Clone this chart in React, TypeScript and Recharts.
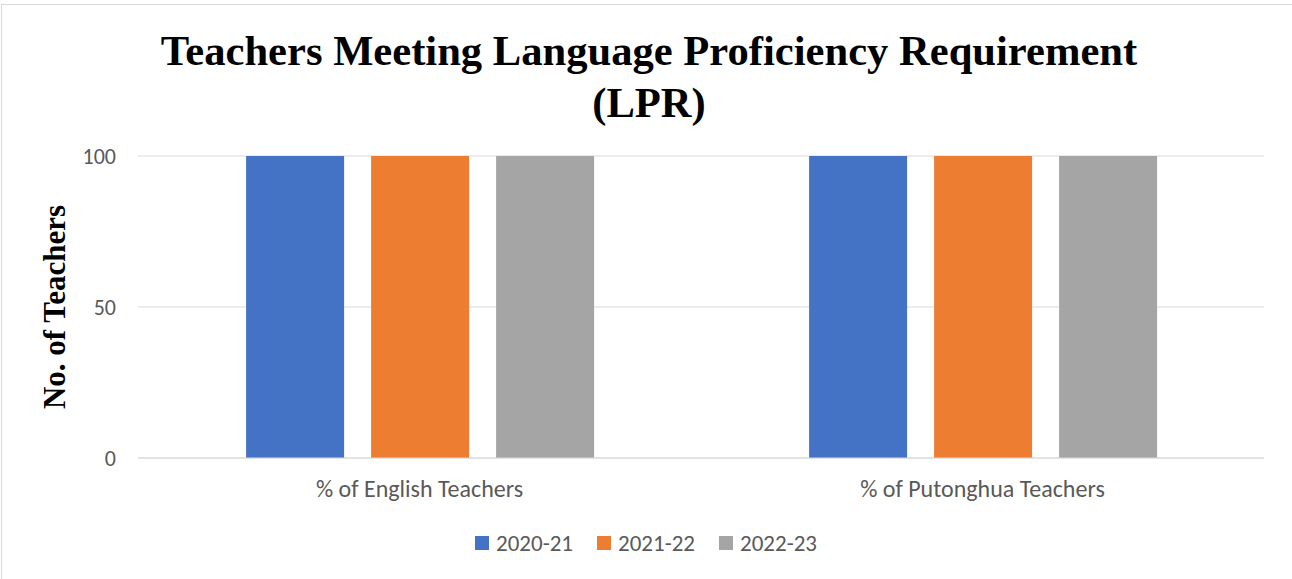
import React from "react";
import { BarChart, Bar, XAxis, YAxis, CartesianGrid } from "recharts";

const categories = ["% of English Teachers", "% of Putonghua Teachers"];
const series2020 = [100, 100];
const series2021 = [100, 100];
const series2022 = [100, 100];
const seriesNames = ["2020-21", "2021-22", "2022-23"];
const seriesColors = ["#4472C4", "#ED7D31", "#A5A5A5"];
const yTicks = [0, 50, 100];
const titleLines = ["Teachers Meeting Language Proficiency Requirement", "(LPR)"];
const yLabel = "No. of Teachers";

const data = categories.map((c, i) => ({
  name: c,
  s0: series2020[i],
  s1: series2021[i],
  s2: series2022[i],
}));

const tickFont = "Carlito, Calibri, Lato, 'Open Sans', sans-serif";
const serif = "'Liberation Serif', 'Times New Roman', serif";

export default function App() {
  const W = 1292;
  const H = 579;
  return (
    <div style={{ position: "absolute", left: 0, top: 0, width: W, height: H, overflow: "hidden", background: "#fff" }}>
      <div
        style={{
          position: "absolute",
          left: 1,
          top: 4,
          width: 1320,
          height: 620,
          border: "1px solid #d9d9d9",
          boxSizing: "border-box",
        }}
      />
      <div style={{ position: "absolute", left: 0, top: 0 }}>
        <BarChart
          width={W}
          height={H}
          data={data}
          margin={{ top: 156, right: 28, bottom: 0, left: 0 }}
          barCategoryGap="19.2%"
          barGap={27}
        >
          <CartesianGrid horizontal vertical={false} stroke="#d9d9d9" strokeWidth={1} />
          <XAxis
            dataKey="name"
            axisLine={{ stroke: "#d9d9d9" }}
            tickLine={false}
            tickMargin={16}
            tick={{ fill: "#595959", fontSize: 24, fontFamily: tickFont }}
            height={121}
          />
          <YAxis
            domain={[0, 100]}
            ticks={yTicks}
            width={138}
            axisLine={false}
            tickLine={false}
            tickMargin={16}
            tick={{ fill: "#595959", fontSize: 22, fontFamily: tickFont }}
          />
          <Bar dataKey="s0" name={seriesNames[0]} fill={seriesColors[0]} isAnimationActive={false} />
          <Bar dataKey="s1" name={seriesNames[1]} fill={seriesColors[1]} isAnimationActive={false} />
          <Bar dataKey="s2" name={seriesNames[2]} fill={seriesColors[2]} isAnimationActive={false} />
        </BarChart>
      </div>
      <svg
        width={W}
        height={H}
        style={{ position: "absolute", left: 0, top: 0, pointerEvents: "none" }}
      >
        <text x={649} y={65} textAnchor="middle" fontFamily={serif} fontWeight="bold" fontSize={42.6} fill="#000">
          {titleLines[0]}
        </text>
        <text x={649} y={117} textAnchor="middle" fontFamily={serif} fontWeight="bold" fontSize={42.6} fill="#000">
          {titleLines[1]}
        </text>
        <text
          transform="translate(65,307) rotate(-90)"
          textAnchor="middle"
          fontFamily={serif}
          fontWeight="bold"
          fontSize={31}
          fill="#000"
        >
          {yLabel}
        </text>
      </svg>
      <div
        style={{
          position: "absolute",
          left: 0,
          top: 531,
          width: W,
          display: "flex",
          justifyContent: "center",
          fontFamily: tickFont,
          fontSize: 23,
          color: "#595959",
          lineHeight: "24px",
        }}
      >
        {seriesNames.map((n, i) => (
          <div key={n} style={{ display: "flex", alignItems: "center", marginRight: i < 2 ? 24 : 0 }}>
            <span style={{ display: "inline-block", width: 14, height: 14, background: seriesColors[i], marginRight: 7 }} />
            <span>{n}</span>
          </div>
        ))}
      </div>
    </div>
  );
}
